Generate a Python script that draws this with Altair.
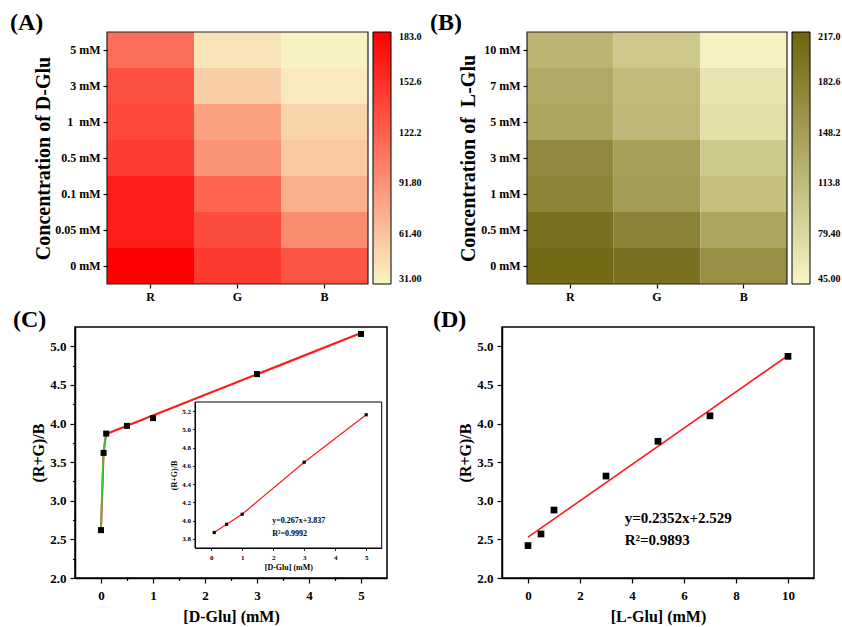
import altair as alt
import pandas as pd

FONT = "Liberation Serif"

# ---------------- data ----------------
channels = ["R", "G", "B"]

a_conc = ["5 mM", "3 mM", "1\u00a0 mM", "0.5 mM", "0.1 mM", "0.05 mM", "0 mM"]
a_R = [115, 133, 138, 145, 165, 164, 183]
a_G = [41, 55, 83, 91, 121, 136, 147]
a_B = [33, 37, 51, 58, 74, 96, 130]
a_ticks = [183.0, 152.6, 122.2, 91.8, 61.4, 31.0]

b_conc = ["10 mM", "7 mM", "5 mM", "3 mM", "1 mM", "0.5 mM", "0 mM"]
b_R = [121, 135, 139, 172, 177, 200, 210]
b_G = [98, 114, 119, 147, 152, 180, 200]
b_B = [48, 65, 71, 97, 110, 139, 166]
b_ticks = [217.0, 182.6, 148.2, 113.8, 79.4, 45.0]

c_x = [0, 0.05, 0.1, 0.5, 1, 3, 5]
c_y = [2.62, 3.62, 3.87, 3.97, 4.07, 4.64, 5.16]
c_fit_x = [0.1, 5]
c_fit_y = [3.864, 5.172]
inset_x = [0.1, 0.5, 1, 3, 5]
inset_y = [3.87, 3.96, 4.07, 4.64, 5.16]

d_x = [0, 0.5, 1, 3, 5, 7, 10]
d_y = [2.42, 2.57, 2.88, 3.32, 3.77, 4.10, 4.87]
d_fit_x = [0, 10]
d_fit_y = [2.529, 4.881]

panel_labels = ["(A)", "(B)", "(C)", "(D)"]
c_eq = ["y=0.267x+3.837", "R\u00b2=0.9992"]
d_eq = ["y=0.2352x+2.529", "R\u00b2=0.9893"]

xc_ticks = [0, 0.5, 1, 1.5, 2, 2.5, 3, 3.5, 4, 4.5, 5]
xd_ticks = [0, 1, 2, 3, 4, 5, 6, 7, 8, 9, 10]
y_ticks = [2.0, 2.25, 2.5, 2.75, 3.0, 3.25, 3.5, 3.75, 4.0, 4.25, 4.5, 4.75, 5.0]

RED = "#ff1a1a"


def panel_label(text, dx, dy):
    return alt.Chart(pd.DataFrame({"t": [text]})).mark_text(
        font=FONT, fontWeight="bold", fontSize=24, align="left",
        baseline="alphabetic", color="black"
    ).encode(text="t:N", x=alt.value(dx), y=alt.value(dy))


def heatmap(conc, R, G, B, ticks, y_title, colors, label, shift, width, title_pad):
    rows = []
    for i, c in enumerate(conc):
        for ch, vals in zip(channels, (R, G, B)):
            rows.append({"conc": c, "ch": ch, "val": vals[i]})
    df = pd.DataFrame(rows)
    rect = alt.Chart(df).mark_rect().encode(
        x=alt.X("ch:N", sort=channels,
                scale=alt.Scale(paddingInner=0, paddingOuter=0, range=[shift, shift + width]),
                axis=alt.Axis(title=None, labelAngle=0, labelFontSize=12,
                              labelPadding=3, tickSize=4, domain=False)),
        y=alt.Y("conc:N", sort=conc,
                scale=alt.Scale(paddingInner=0, paddingOuter=0),
                axis=alt.Axis(title=y_title, titleFontSize=20, titlePadding=title_pad,
                              offset=-shift, labelFontSize=12, labelPadding=3, tickSize=4,
                              domain=False)),
        color=alt.Color("val:Q",
                        scale=alt.Scale(domain=[min(ticks), max(ticks)], range=colors,
                                        interpolate="rgb"),
                        legend=alt.Legend(title=None, orient="right", offset=5,
                                          gradientLength=252, gradientThickness=18,
                                          values=ticks, format=".4r", labelFontSize=10,
                                          labelOffset=8, labelBaseline="middle",
                                          labelOverlap=False, gradientStrokeColor="black",
                                          gradientStrokeWidth=1, direction="vertical")),
    )
    frame = alt.Chart(pd.DataFrame({"z": [0]})).mark_rect(
        fill=None, stroke="#222222", strokeWidth=1.2
    ).encode(x=alt.value(shift), x2=alt.value(shift + width), y=alt.value(0), y2=alt.value(252))
    return alt.layer(rect, frame, panel_label(label, shift - 97, -2)).properties(
        width=shift + width, height=252, view=alt.ViewBackground(stroke=None))


A = heatmap(a_conc, a_R, a_G, a_B, a_ticks, "Concentration of D-Glu",
            ["#f8f4c4", "#ff0000"], panel_labels[0], 32, 261, 1)
B = heatmap(b_conc, b_R, b_G, b_B, b_ticks, "Concentration of\u00a0 L-Glu",
            ["#f9f5c4", "#6c640e"], panel_labels[1], 25, 260, 2)

# ---------------- panel C ----------------
minor_x1 = {"condition": {"test": "datum.value % 1 != 0", "value": 2.5}, "value": 5}
minor_y = {"condition": {"test": "(datum.value*4) % 2 != 0", "value": 2.5}, "value": 5}

xC = alt.X("x:Q", scale=alt.Scale(domain=[-0.5, 5.5], nice=False, zero=False),
           axis=alt.Axis(values=xc_ticks, labelExpr="datum.value % 1 ? '' : format(datum.value, 'd')",
                         tickSize=minor_x1, title="[D-Glu] (mM)", titleFontSize=16,
                         labelFontSize=13, labelPadding=6, titlePadding=6, labelOverlap=False))
yC = alt.Y("y:Q", scale=alt.Scale(domain=[2.0, 5.25], nice=False, zero=False),
           axis=alt.Axis(values=y_ticks, labelExpr="(datum.value*4) % 2 ? '' : format(datum.value, '.1f')",
                         tickSize=minor_y, title="(R+G)/B", titleFontSize=16,
                         labelFontSize=13, labelPadding=4, titlePadding=3, labelOverlap=False))

cdf = pd.DataFrame({"x": c_x, "y": c_y})
cfit = pd.DataFrame({"x": c_fit_x, "y": c_fit_y})
clow = cdf.iloc[:3]

c_main = alt.layer(
    alt.Chart(cfit).mark_line(color=RED, strokeWidth=2.2).encode(x=xC, y=yC),
    alt.Chart(clow).mark_line(color=RED, strokeWidth=2).encode(x=xC, y=yC),
    alt.Chart(clow).mark_line(color="#3fc43f", strokeWidth=1.8, interpolate="monotone").encode(x=xC, y=yC),
    alt.Chart(cdf).mark_square(size=36, color="black", opacity=1).encode(x=xC, y=yC),
    panel_label(panel_labels[2], -62, 0),
)

minor_xi = {"condition": {"test": "datum.value % 1 != 0", "value": 1.5}, "value": 2.5}
scale_xi = alt.Scale(domain=[-0.52, 5.5], range=[120, 306.7], nice=False, zero=False)
scale_yi = alt.Scale(domain=[3.7, 5.3], range=[221, 75], nice=False, zero=False)
axis_xi = alt.Axis(orient="bottom", offset=-30, values=xc_ticks,
                   labelExpr="datum.value % 1 ? '' : format(datum.value, 'd')",
                   tickSize=minor_xi, title="[D-Glu] (mM)", titleFontSize=8,
                   labelFontSize=7, labelPadding=3, titlePadding=3, domainWidth=1, tickWidth=0.8,
                   labelOverlap=False, zindex=2)
axis_yi = alt.Axis(orient="left", offset=-120, tickCount=8, format=".1f",
                   tickSize=2.5, title="(R+G)/B", titleFontSize=8,
                   labelFontSize=7, labelPadding=2, titlePadding=3, domainWidth=1, tickWidth=0.8,
                   labelOverlap=False, zindex=2)
xI = alt.X("xi:Q", scale=scale_xi, axis=axis_xi)
yI = alt.Y("yi:Q", scale=scale_yi, axis=axis_yi)

idf = pd.DataFrame({"xi": inset_x, "yi": inset_y})
c_inset = alt.layer(
    alt.Chart(idf).mark_line(color=RED, strokeWidth=1.2).encode(x=xI, y=yI),
    alt.Chart(idf).mark_square(size=10, color="black", opacity=1).encode(x=xI, y=yI),
    alt.Chart(pd.DataFrame({"z": [0]})).mark_rect(fill=None, stroke="black", strokeWidth=1).encode(
        x=alt.X(datum=-0.52, type="quantitative"),
        x2=alt.X2(datum=5.5),
        y=alt.Y(datum=3.7, type="quantitative"),
        y2=alt.Y2(datum=5.3)),
    alt.Chart(pd.DataFrame({"z": [0]})).mark_text(
        font=FONT, fontWeight="bold", fontSize=8, align="left", baseline="middle",
        lineHeight=13, color="black").encode(
        x=alt.X(datum=1.97, type="quantitative"), y=alt.Y(datum=4.0, type="quantitative"),
        text=alt.value(c_eq)),
)

C = alt.layer(c_main, c_inset).resolve_scale(x="independent", y="independent").properties(
    width=312, height=251)

# ---------------- panel D ----------------
minor_x2 = {"condition": {"test": "datum.value % 2 != 0", "value": 2.5}, "value": 5}
xD = alt.X("x:Q", scale=alt.Scale(domain=[-1, 11], nice=False, zero=False),
           axis=alt.Axis(values=xd_ticks, labelExpr="datum.value % 2 ? '' : format(datum.value, 'd')",
                         tickSize=minor_x2, title="[L-Glu] (mM)", titleFontSize=16,
                         labelFontSize=13, labelPadding=6, titlePadding=6, labelOverlap=False))
yD = alt.Y("y:Q", scale=alt.Scale(domain=[2.0, 5.25], nice=False, zero=False),
           axis=alt.Axis(values=y_ticks, labelExpr="(datum.value*4) % 2 ? '' : format(datum.value, '.1f')",
                         tickSize=minor_y, title="(R+G)/B", titleFontSize=16,
                         labelFontSize=13, labelPadding=4, titlePadding=3, labelOverlap=False))
ddf = pd.DataFrame({"x": d_x, "y": d_y})
dfit = pd.DataFrame({"x": d_fit_x, "y": d_fit_y})
D = alt.layer(
    alt.Chart(dfit).mark_line(color=RED, strokeWidth=1.6).encode(x=xD, y=yD),
    alt.Chart(ddf).mark_square(size=45, color="black", opacity=1).encode(x=xD, y=yD),
    alt.Chart(pd.DataFrame({"z": [0]})).mark_text(
        font=FONT, fontWeight="bold", fontSize=15, align="left", baseline="middle",
        lineHeight=22, color="black").encode(
        x=alt.X(datum=3.72, type="quantitative"), y=alt.Y(datum=2.775, type="quantitative"),
        text=alt.value(d_eq)),
    panel_label(panel_labels[3], -69, 0),
).properties(width=312, height=251)


chart = alt.concat(
    A, B, C, D,
    columns=2, spacing={"row": 43, "column": 115}, bounds="flush",
).resolve_scale(color="independent").properties(
    padding={"left": 10, "top": 11, "right": 0, "bottom": 0}
).configure(font=FONT).configure_view(
    stroke="black", strokeWidth=1.5
).configure_axis(
    labelFont=FONT, titleFont=FONT, labelFontWeight="bold", titleFontWeight="bold",
    labelColor="black", titleColor="black", tickColor="black", domainColor="black",
    domainWidth=1.5, tickWidth=1.2, grid=False
).configure_legend(
    labelFont=FONT, labelFontWeight="bold", labelColor="black"
)

chart.save("out.html", embed_options={"renderer": "svg", "actions": False})
